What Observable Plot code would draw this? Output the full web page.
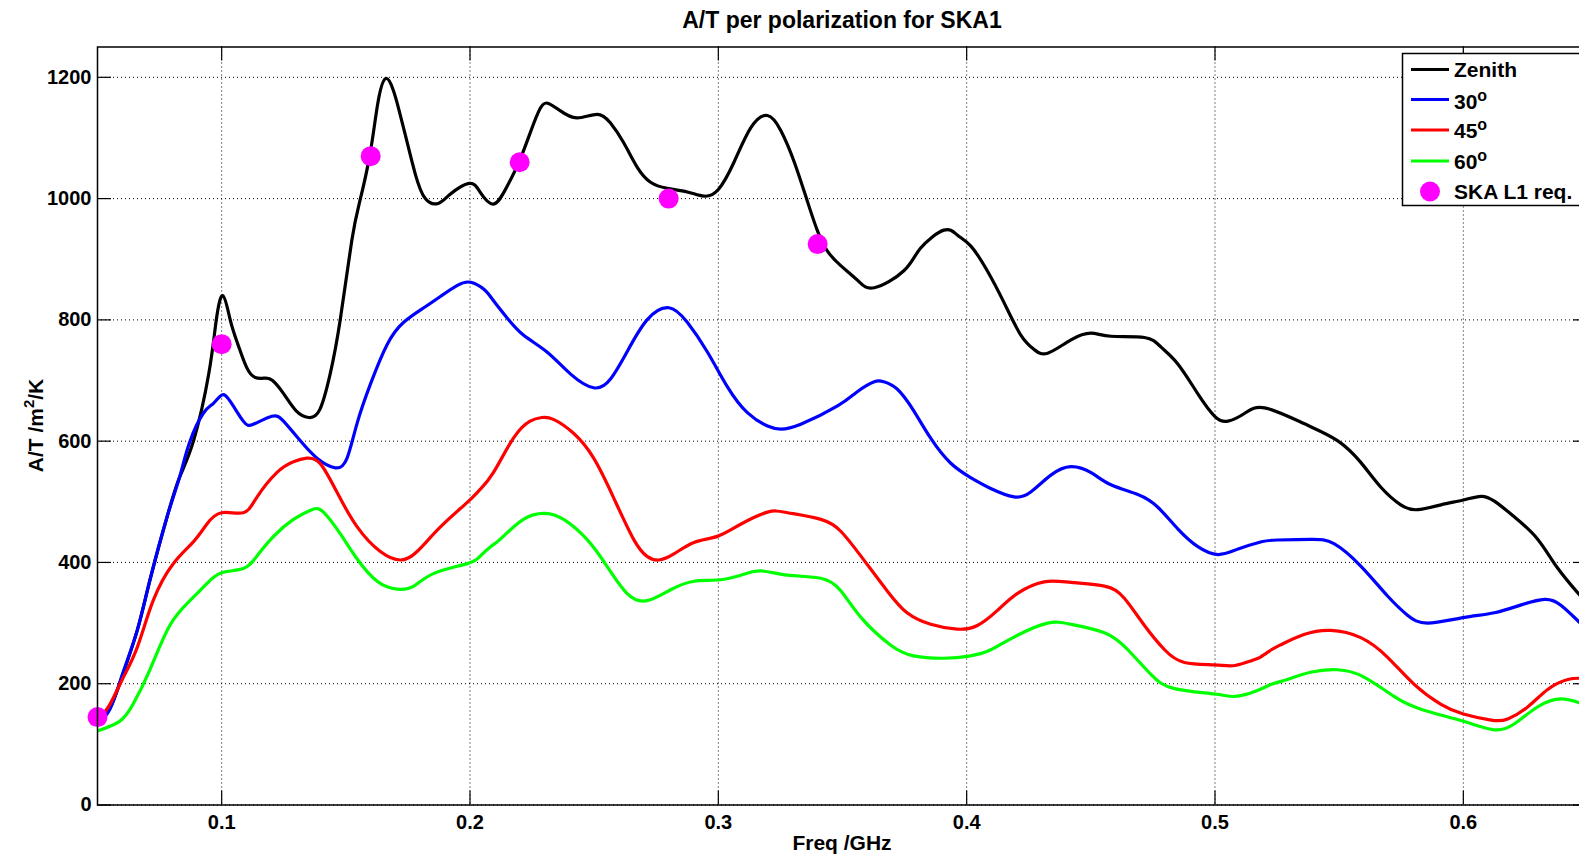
<!DOCTYPE html>
<html>
<head>
<meta charset="utf-8">
<script src="https://cdn.jsdelivr.net/npm/d3@7"></script>
<script src="https://cdn.jsdelivr.net/npm/@observablehq/plot@0.6"></script>
<style>
html, body { margin: 0; padding: 0; overflow: hidden; background: #fff; }
#chart { position: relative; width: 1579px; height: 859px; overflow: hidden; }
#chart svg { max-width: none !important; }
</style>
</head>
<body>
<div id="chart"></div>
<script>
// ---------- data ----------
const zenithFreq = [0.050,0.055,0.060,0.066,0.071,0.078,0.083,0.0887,0.0948,0.0978,0.1005,0.1035,0.1065,0.110,0.1135,0.1175,0.1205,0.125,0.130,0.135,0.1395,0.1437,0.1477,0.1524,0.1557,0.1598,0.163,0.1661,0.169,0.1711,0.1745,0.178,0.182,0.1872,0.192,0.1996,0.204,0.2094,0.2148,0.2198,0.2242,0.2283,0.2316,0.2363,0.243,0.2511,0.2565,0.2619,0.2673,0.2727,0.2794,0.2875,0.2942,0.300,0.3063,0.3131,0.3198,0.3252,0.3306,0.3359,0.340,0.344,0.3494,0.3561,0.3628,0.3747,0.3814,0.3908,0.3962,0.4016,0.4083,0.4151,0.4218,0.4272,0.4326,0.442,0.4501,0.4581,0.4716,0.4783,0.4851,0.4931,0.4999,0.5052,0.512,0.520,0.5358,0.5493,0.5587,0.5668,0.5748,0.5816,0.591,0.600,0.6071,0.6125,0.6206,0.630,0.6381,0.6471,0.650];
const zenithVal  = [140,160,213,288,369,475,540,601,711,799,840,799,760,722,705,704,700,678,650,639,652,711,799,931,997,1075,1160,1198,1180,1151,1096,1040,1000,992,1007,1025,1011,991,1019,1061,1108,1149,1157,1145,1133,1139,1125,1092,1052,1027,1017,1011,1004,1015,1060,1117,1137,1112,1060,995,946,913,889,865,853,881,918,948,940,922,881,828,775,751,745,767,778,773,771,755,727,678,641,633,646,655,629,601,565,524,495,487,495,503,509,501,475,438,390,345,330];

const deg30Freq = [0.050,0.055,0.060,0.066,0.071,0.078,0.083,0.087,0.0926,0.0966,0.100,0.1034,0.1087,0.1128,0.1202,0.1249,0.1316,0.1384,0.1458,0.1505,0.1545,0.1599,0.1666,0.1733,0.1814,0.1882,0.1949,0.2003,0.2057,0.2094,0.2148,0.2215,0.231,0.2404,0.2498,0.2565,0.2632,0.2713,0.2801,0.2875,0.2956,0.3036,0.3117,0.3198,0.3252,0.3332,0.348,0.3561,0.3628,0.3666,0.372,0.3787,0.3855,0.3935,0.4016,0.4097,0.4191,0.4258,0.4339,0.442,0.4501,0.4581,0.4689,0.477,0.4851,0.4931,0.5012,0.5093,0.5187,0.525,0.5385,0.5479,0.5587,0.5694,0.5775,0.5856,0.600,0.6125,0.6233,0.6327,0.6394,0.6471,0.650];
const deg30Val  = [135,158,215,288,369,475,540,597,646,662,676,666,633,628,641,633,601,572,556,572,629,694,759,796,820,839,857,862,850,832,804,775,747,711,688,702,747,800,820,796,747,690,647,625,620,628,658,682,698,698,686,650,605,564,540,522,508,516,544,558,548,528,512,491,455,426,413,422,434,437,438,431,394,345,313,300,309,317,330,339,329,300,290];

const deg45Freq = [0.050,0.055,0.060,0.066,0.0724,0.0805,0.0886,0.094,0.100,0.1087,0.1141,0.1222,0.1289,0.1343,0.1397,0.1464,0.1545,0.1639,0.172,0.1787,0.1882,0.1989,0.204,0.2094,0.2175,0.2242,0.2289,0.2336,0.2417,0.2498,0.2578,0.2659,0.2713,0.276,0.2821,0.2902,0.2996,0.309,0.3198,0.3279,0.3413,0.3494,0.3575,0.368,0.376,0.3855,0.3962,0.4043,0.4124,0.4205,0.4312,0.442,0.4555,0.4635,0.4716,0.4797,0.4877,0.4999,0.508,0.5147,0.5183,0.5227,0.5264,0.5358,0.5466,0.5587,0.5694,0.5802,0.591,0.600,0.6112,0.6179,0.626,0.6341,0.6421,0.6471,0.650];
const deg45Val  = [138,166,207,260,337,398,434,463,482,482,507,548,566,572,563,516,459,418,404,418,459,499,520,548,605,633,639,636,613,572,507,438,410,404,414,433,443,463,483,482,471,451,410,353,317,298,290,296,321,349,368,367,361,341,296,256,235,231,230,238,244,256,264,281,288,276,244,199,166,150,140,142,162,191,207,209,209];

const deg60Freq = [0.050,0.0589,0.0643,0.0711,0.0791,0.0872,0.094,0.100,0.1087,0.1141,0.1209,0.1289,0.1363,0.141,0.1478,0.1545,0.1626,0.1707,0.1774,0.1855,0.1989,0.204,0.2083,0.2121,0.2215,0.2302,0.2377,0.2471,0.2551,0.2632,0.2713,0.2808,0.2902,0.2996,0.309,0.3171,0.3279,0.3413,0.3494,0.3575,0.3693,0.3787,0.3908,0.4016,0.4097,0.4205,0.4326,0.442,0.4555,0.4649,0.4743,0.4837,0.4999,0.508,0.516,0.5227,0.5291,0.5385,0.5493,0.560,0.5721,0.5829,0.600,0.6125,0.6206,0.630,0.6394,0.6471,0.650];
const deg60Val  = [122,138,166,223,296,337,365,383,390,410,443,471,487,483,447,406,369,356,361,382,398,410,426,438,471,481,471,438,394,349,337,355,369,371,379,386,379,374,353,309,264,246,242,246,256,280,300,298,284,256,215,192,183,179,187,199,207,219,223,211,179,158,138,124,134,162,175,168,165];

const reqFreq = [0.05, 0.10, 0.16, 0.22, 0.28, 0.34];
const reqVal  = [145, 760, 1070, 1060, 1000, 925];

const seriesNames  = ["Zenith", "30", "45", "60"];
const seriesColors = ["#000000", "#0000ff", "#ff0000", "#00ff00"];
const xTicks = [0.1, 0.2, 0.3, 0.4, 0.5, 0.6];
const yTicks = [0, 200, 400, 600, 800, 1000, 1200];
const titleText = "A/T per polarization for SKA1";
const xLabelText = "Freq /GHz";
const reqLabel = "SKA L1 req.";

// ---------- build tables ----------
const seriesData = [
  [zenithFreq, zenithVal], [deg30Freq, deg30Val], [deg45Freq, deg45Val], [deg60Freq, deg60Val]
];
const rows = seriesData.flatMap(([fs, vs], i) =>
  fs.map((f, j) => ({series: seriesNames[i], f, v: vs[j]})));
const req = reqFreq.map((f, i) => ({f, v: reqVal[i]}));

// ---------- layout ----------
const W = 1590, H = 859;
const mL = 97, mR = 3, mT = 46.5, mB = 54.5;
const innerW = W - mL - mR, innerH = H - mT - mB;
const font = "'Liberation Sans', Arial, Helvetica, sans-serif";
const tickLen = 14;

const plot = Plot.plot({
  width: W, height: H,
  marginLeft: mL, marginRight: mR, marginTop: mT, marginBottom: mB,
  style: {fontFamily: font, fontSize: "20px", fontWeight: "bold", color: "black", background: "white",
          overflow: "visible", maxWidth: "none"},
  x: {domain: [0.05, 0.65]},
  y: {domain: [0, 1250]},
  color: {domain: seriesNames, range: seriesColors},
  marks: [
    Plot.gridX(xTicks, {stroke: "black", strokeOpacity: 1, strokeWidth: 1, strokeDasharray: "1,3"}),
    Plot.gridY(yTicks, {stroke: "black", strokeOpacity: 1, strokeWidth: 1, strokeDasharray: "1,3"}),
    Plot.tickX(xTicks, {x: d => d, insetTop: innerH - tickLen, stroke: "black", strokeWidth: 1.2}),
    Plot.tickX(xTicks, {x: d => d, insetBottom: innerH - tickLen, stroke: "black", strokeWidth: 1.2}),
    Plot.tickY(yTicks, {y: d => d, insetRight: innerW - tickLen, stroke: "black", strokeWidth: 1.2}),
    Plot.tickY(yTicks, {y: d => d, insetLeft: innerW - tickLen, stroke: "black", strokeWidth: 1.2}),
    Plot.line(rows, {x: "f", y: "v", z: "series", stroke: "series", strokeWidth: 3.2,
      curve: "natural", strokeLinejoin: "round", strokeLinecap: "round", clip: true}),
    Plot.dot(req, {x: "f", y: "v", r: 10, fill: "#ff00ff", stroke: "none"}),
    Plot.frame({stroke: "black", strokeWidth: 1.5}),
    Plot.axisX(xTicks, {tickSize: 0, tickPadding: 10, label: null, fontSize: 20, fontWeight: "bold",
      tickFormat: d => d.toFixed(1)}),
    Plot.axisY(yTicks, {tickSize: 0, tickPadding: 6, label: null, fontSize: 20, fontWeight: "bold",
      tickFormat: d => String(d)})
  ]
});
plot.style.maxWidth = "none";
document.getElementById("chart").appendChild(plot);

// ---------- title, labels, legend ----------
const svg = d3.select(plot);
const cx = mL + innerW / 2;

svg.append("text")
  .attr("x", cx).attr("y", 28)
  .attr("text-anchor", "middle")
  .style("font-family", font).style("font-size", "23px").style("font-weight", "bold")
  .attr("fill", "black")
  .text(titleText);

svg.append("text")
  .attr("x", cx).attr("y", 850)
  .attr("text-anchor", "middle")
  .style("font-family", font).style("font-size", "21px").style("font-weight", "bold")
  .attr("fill", "black")
  .text(xLabelText);

const yl = svg.append("text")
  .attr("transform", `translate(43,${mT + innerH / 2}) rotate(-90)`)
  .attr("text-anchor", "middle")
  .style("font-family", font).style("font-size", "21px").style("font-weight", "bold")
  .attr("fill", "black");
yl.append("tspan").text("A/T /m");
yl.append("tspan").attr("dy", -9).style("font-size", "15px").text("2");
yl.append("tspan").attr("dy", 9).text("/K");

// legend
const lg = svg.append("g");
lg.append("rect")
  .attr("x", 1402.5).attr("y", 53.5).attr("width", 220).attr("height", 152)
  .attr("fill", "white").attr("stroke", "black").attr("stroke-width", 1.5);
const rowY = [69.5, 99.5, 130, 161];
const baseY = [77, 108.5, 138, 169];
seriesNames.forEach((name, i) => {
  lg.append("line")
    .attr("x1", 1411).attr("x2", 1449).attr("y1", rowY[i]).attr("y2", rowY[i])
    .attr("stroke", seriesColors[i]).attr("stroke-width", 3.2);
  const t = lg.append("text")
    .attr("x", 1454).attr("y", baseY[i])
    .attr("text-anchor", "start")
    .style("font-family", font).style("font-size", "21px").style("font-weight", "bold")
    .attr("fill", "black");
  t.append("tspan").text(name);
  if (i > 0) t.append("tspan").attr("dy", -8).style("font-size", "16px").text("o");
});
lg.append("circle").attr("cx", 1430).attr("cy", 191.5).attr("r", 10).attr("fill", "#ff00ff");
lg.append("text")
  .attr("x", 1454).attr("y", 198.5)
  .attr("text-anchor", "start")
  .style("font-family", font).style("font-size", "21px").style("font-weight", "bold")
  .attr("fill", "black")
  .text(reqLabel);
</script>
</body>
</html>
